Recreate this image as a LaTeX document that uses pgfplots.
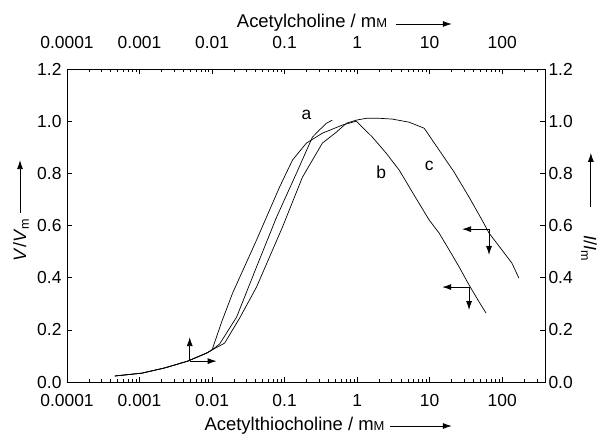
\documentclass[border=0pt]{standalone}
\usepackage{fontspec}
\setmainfont{Liberation Sans}
\usepackage{pgfplots}
\usepackage{pgfplotstable}
\pgfplotsset{compat=1.18}
\usetikzlibrary{arrows.meta}

\newcommand{\mM}{m{\fontsize{13}{14}\selectfont M}}

% curve a
\pgfplotstableread{
x y
4.57e-4 0.023
1.08e-3 0.034
2.23e-3 0.054
4.61e-3 0.080
8.43e-3 0.111
0.0100 0.123
0.01273 0.146
0.0218 0.249
0.0410 0.441
0.0775 0.632
0.146 0.801
0.242 0.939
0.302 0.966
0.377 0.992
0.456 1.004
}\curveA

% curve b
\pgfplotstableread{
x y
4.57e-4 0.023
1.08e-3 0.034
2.23e-3 0.054
4.61e-3 0.080
8.43e-3 0.111
0.0100 0.123
0.01355 0.230
0.0192 0.341
0.0410 0.544
0.0851 0.747
0.1285 0.851
0.200 0.916
0.332 0.954
0.625 0.985
0.975 1.000
1.62 0.939
2.52 0.877
3.81 0.812
6.12 0.716
9.84 0.621
13.5 0.571
18.6 0.506
25.5 0.441
34.9 0.372
48.0 0.307
59.9 0.264
}\curveB

% curve c
\pgfplotstableread{
x y
4.57e-4 0.023
1.08e-3 0.034
2.23e-3 0.054
4.61e-3 0.080
8.43e-3 0.111
0.0100 0.123
0.0149 0.149
0.0240 0.245
0.0410 0.364
0.0935 0.594
0.176 0.785
0.332 0.916
0.518 0.958
0.710 0.992
0.975 1.004
1.34 1.011
2.02 1.011
3.05 1.008
5.22 0.996
8.40 0.973
13.5 0.889
21.7 0.805
34.9 0.709
52.7 0.621
65.8 0.571
99.3 0.506
136 0.456
170 0.398
}\curveC

\begin{document}
\begin{tikzpicture}[font=\fontsize{17.5}{20}\selectfont, >={Latex[length=9bp,width=6bp]}]
\path[use as bounding box] (-67bp,-53bp) rectangle (534bp,382bp);
\begin{axis}[
    width=478bp, height=313bp, scale only axis,
    xmode=log, xmin=1e-4, xmax=389,
    ymin=0, ymax=1.2,
    xtick={1e-4,1e-3,0.01,0.1,1,10,100},
    minor xtick={2e-4,3e-4,4e-4,5e-4,6e-4,7e-4,8e-4,9e-4,
                 2e-3,3e-3,4e-3,5e-3,6e-3,7e-3,8e-3,9e-3,
                 0.02,0.03,0.04,0.05,0.06,0.07,0.08,0.09,
                 0.2,0.3,0.4,0.5,0.6,0.7,0.8,0.9,
                 2,3,4,5,6,7,8,9,
                 20,30,40,50,60,70,80,90,200,300},
    xticklabels={},
    ytick={0,0.2,0.4,0.6,0.8,1.0,1.2},
    xtick pos=both, ytick pos=both, yticklabel pos=left,
    tick align=inside,
    major tick length=5bp, minor tick length=3bp,
    tick style={black, line width=0.6bp},
    axis line style={line width=0.8bp},
    /pgf/number format/assume math mode=true,
    yticklabel style={/pgf/number format/fixed, /pgf/number format/fixed zerofill,
        /pgf/number format/precision=1, font=\fontsize{17.5}{20}\selectfont, xshift=-2bp},
    clip=false,
]
\addplot[black, line width=0.7bp] table {\curveA};
\addplot[black, line width=0.7bp] table {\curveB};
\addplot[black, line width=0.7bp] table {\curveC};

\node at (axis cs:0.200,1.023) {a};
\node at (axis cs:2.15,0.805) {b};
\node at (axis cs:9.84,0.828) {c};

% axis arrows
\draw[->, line width=0.8bp] (axis cs:4.92e-3,0.080) -- (axis cs:4.92e-3,0.172);
\draw[->, line width=0.8bp] (axis cs:4.92e-3,0.080) -- (axis cs:0.01156,0.080);
\draw[->, line width=0.8bp] (axis cs:34.9,0.364) -- (axis cs:14.9,0.364);
\draw[->, line width=0.8bp] (axis cs:34.9,0.364) -- (axis cs:34.9,0.276);
\draw[->, line width=0.8bp] (axis cs:65.8,0.586) -- (axis cs:28.0,0.586);
\draw[->, line width=0.8bp] (axis cs:65.8,0.586) -- (axis cs:65.8,0.487);

% x tick labels, bottom
\node[anchor=base] at (axis cs:1e-4,-0.0958) {0.0001};
\node[anchor=base] at (axis cs:1e-3,-0.0958) {0.001};
\node[anchor=base] at (axis cs:0.01,-0.0958) {0.01};
\node[anchor=base] at (axis cs:0.1,-0.0958) {0.1};
\node[anchor=base] at (axis cs:1,-0.0958) {1};
\node[anchor=base] at (axis cs:10,-0.0958) {10};
\node[anchor=base] at (axis cs:100,-0.0958) {100};
% x tick labels, top
\node[anchor=base] at (axis cs:1e-4,1.2797) {0.0001};
\node[anchor=base] at (axis cs:1e-3,1.2797) {0.001};
\node[anchor=base] at (axis cs:0.01,1.2797) {0.01};
\node[anchor=base] at (axis cs:0.1,1.2797) {0.1};
\node[anchor=base] at (axis cs:1,1.2797) {1};
\node[anchor=base] at (axis cs:10,1.2797) {10};
\node[anchor=base] at (axis cs:100,1.2797) {100};

% axis titles
\node[anchor=base, font=\fontsize{18.5}{21}\selectfont] at (rel axis cs:0.476,-0.1565) {Acetylthiocholine / \mM};
\draw[->, line width=0.8bp] (rel axis cs:0.676,-0.1406) -- (rel axis cs:0.805,-0.1406);
\node[anchor=base, font=\fontsize{18.5}{21}\selectfont] at (rel axis cs:0.5126,1.131) {Acetylcholine / \mM};
\draw[->, line width=0.8bp] (rel axis cs:0.688,1.1438) -- (rel axis cs:0.805,1.1438);

\node[rotate=90, font=\fontsize{18}{20}\selectfont, inner sep=0pt] at (rel axis cs:-0.0962,0.4537) {\textit{V}/\textit{V}\textsubscript{m}};
\draw[->, line width=0.8bp] (rel axis cs:-0.0983,0.540) -- (rel axis cs:-0.0983,0.709);
\node[rotate=-90, font=\fontsize{18}{20}\selectfont, inner sep=0pt] at (rel axis cs:1.092,0.428) {\textit{I}/\textit{I}\textsubscript{m}};
\draw[->, line width=0.8bp] (rel axis cs:1.096,0.559) -- (rel axis cs:1.096,0.732);
\end{axis}
\begin{axis}[
    width=478bp, height=313bp, scale only axis,
    ymin=0, ymax=1.2, xmin=0, xmax=1,
    hide x axis, axis y line*=right,
    axis line style={draw=none},
    ytick={0,0.2,0.4,0.6,0.8,1.0,1.2},
    major tick length=0pt,
    /pgf/number format/assume math mode=true,
    yticklabel style={/pgf/number format/fixed, /pgf/number format/fixed zerofill,
        /pgf/number format/precision=1, font=\fontsize{17.5}{20}\selectfont},
]
\end{axis}
\end{tikzpicture}
\end{document}
